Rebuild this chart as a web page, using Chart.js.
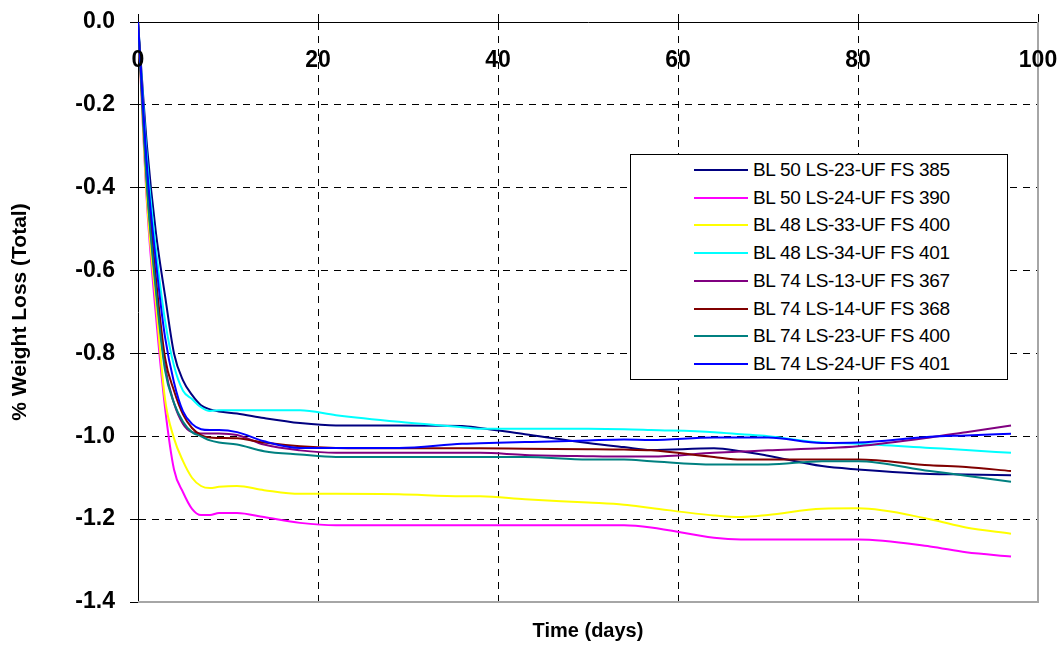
<!DOCTYPE html>
<html>
<head>
<meta charset="utf-8">
<script src="https://cdn.jsdelivr.net/npm/chart.js@4.4.1/dist/chart.umd.min.js"></script>
<style>
  html, body { margin: 0; padding: 0; background: #fff; }
  #wrap { position: relative; width: 1061px; height: 645px; }
  #legend {
    position: absolute; left: 630px; top: 154px; width: 376px; height: 224px;
    border: 1px solid #000; background: #fff;
    font-family: "Liberation Sans", Arial, sans-serif; font-size: 19px; letter-spacing: -0.3px; color: #000;
  }
  .item { position: absolute; left: 0; height: 28px; display: flex; align-items: center; white-space: nowrap; }
  .swatch { display: inline-block; width: 54px; height: 2px; margin-left: 63px; margin-right: 5px; }
</style>
</head>
<body>
<div id="wrap">
  <canvas id="chart" width="1061" height="645"></canvas>
  <div id="legend"></div>
</div>
<script>
// sampling days
const days = [0, 1, 2, 3, 4, 5, 6, 7, 8, 9, 11, 14, 18, 22, 29, 36, 38, 43, 50, 54, 57, 64, 67, 70, 76, 80, 88, 92, 97];

// % weight loss per sample
const bl50ls23 = [0, -0.30, -0.51, -0.66, -0.80, -0.865, -0.90, -0.925, -0.935, -0.94, -0.945, -0.956, -0.968, -0.974, -0.974, -0.975, -0.98, -0.995, -1.016, -1.026, -1.033, -1.029, -1.036, -1.047, -1.072, -1.08, -1.091, -1.092, -1.094];
const bl50ls24 = [0, -0.44, -0.71, -0.93, -1.08, -1.135, -1.175, -1.19, -1.19, -1.185, -1.185, -1.195, -1.209, -1.215, -1.215, -1.215, -1.215, -1.215, -1.215, -1.215, -1.22, -1.245, -1.249, -1.249, -1.249, -1.249, -1.266, -1.28, -1.29];
const bl48ls33 = [0, -0.43, -0.68, -0.91, -1.005, -1.06, -1.10, -1.12, -1.125, -1.122, -1.12, -1.13, -1.139, -1.139, -1.14, -1.145, -1.145, -1.152, -1.16, -1.165, -1.173, -1.191, -1.195, -1.19, -1.175, -1.174, -1.2, -1.22, -1.235];
const bl48ls34 = [0, -0.33, -0.55, -0.72, -0.83, -0.89, -0.91, -0.93, -0.939, -0.937, -0.937, -0.937, -0.937, -0.949, -0.965, -0.978, -0.982, -0.982, -0.982, -0.983, -0.985, -0.99, -0.995, -1.0, -1.015, -1.018, -1.028, -1.033, -1.04];
const bl74ls13 = [0, -0.39, -0.64, -0.83, -0.92, -0.97, -0.99, -0.993, -0.993, -0.993, -0.997, -1.02, -1.034, -1.04, -1.04, -1.04, -1.04, -1.045, -1.048, -1.049, -1.049, -1.04, -1.037, -1.034, -1.029, -1.024, -1.003, -0.99, -0.974];
const bl74ls14 = [0, -0.37, -0.62, -0.81, -0.89, -0.947, -0.98, -0.997, -1.003, -1.004, -1.005, -1.015, -1.024, -1.028, -1.029, -1.029, -1.029, -1.03, -1.031, -1.032, -1.034, -1.05, -1.056, -1.056, -1.056, -1.056, -1.07, -1.074, -1.084];
const bl74ls23 = [0, -0.40, -0.65, -0.84, -0.92, -0.965, -0.99, -1.0, -1.01, -1.015, -1.02, -1.036, -1.044, -1.05, -1.05, -1.05, -1.05, -1.05, -1.056, -1.056, -1.06, -1.068, -1.068, -1.068, -1.06, -1.06, -1.084, -1.095, -1.11];
const bl74ls24 = [0, -0.35, -0.58, -0.76, -0.87, -0.94, -0.97, -0.983, -0.985, -0.985, -0.99, -1.012, -1.028, -1.028, -1.028, -1.018, -1.017, -1.014, -1.01, -1.008, -1.009, -1.003, -1.003, -1.003, -1.016, -1.015, -1.001, -0.998, -0.994];

const seriesNames = [
  'BL 50 LS-23-UF FS 385', 'BL 50 LS-24-UF FS 390', 'BL 48 LS-33-UF FS 400', 'BL 48 LS-34-UF FS 401',
  'BL 74 LS-13-UF FS 367', 'BL 74 LS-14-UF FS 368', 'BL 74 LS-23-UF FS 400', 'BL 74 LS-24-UF FS 401',
];
const seriesValues = [bl50ls23, bl50ls24, bl48ls33, bl48ls34, bl74ls13, bl74ls14, bl74ls23, bl74ls24];
const seriesColors = ['#000080', '#ff00ff', '#ffff00', '#00ffff', '#800080', '#800000', '#008080', '#0000ff'];

const yTicks = [0, -0.2, -0.4, -0.6, -0.8, -1.0, -1.2, -1.4];
const xTicks = [0, 20, 40, 60, 80, 100];

const FONT = '"Liberation Sans", Arial, sans-serif';

const datasets = seriesValues.map((vals, i) => ({
  label: seriesNames[i],
  data: vals.map((v, k) => ({ x: days[k], y: v })),
  borderColor: seriesColors[i],
  backgroundColor: seriesColors[i],
  borderWidth: 2,
  pointRadius: 0,
  cubicInterpolationMode: 'monotone',
  fill: false,
  order: seriesValues.length - 1 - i, // last series on top, like the original
}));

const isEnd = (v, a, b) => Math.abs(v - a) < 1e-6 || Math.abs(v - b) < 1e-6;

// gray right & bottom edge of the plot
const frame = {
  id: 'frame',
  beforeDatasetsDraw(chart) {
    const { ctx, chartArea: a } = chart;
    ctx.save();
    ctx.strokeStyle = '#a6a6a6';
    ctx.lineWidth = 2;
    ctx.beginPath();
    ctx.moveTo(a.left, a.bottom);
    ctx.lineTo(a.right, a.bottom);
    ctx.lineTo(a.right, a.top);
    ctx.stroke();
    ctx.restore();
  },
};

// x tick labels sit just under the top axis, inside the plot
const xLabels = {
  id: 'xLabels',
  afterDatasetsDraw(chart) {
    const { ctx, chartArea } = chart;
    const s = chart.scales.x;
    ctx.save();
    ctx.font = `bold 23px ${FONT}`;
    ctx.fillStyle = '#000';
    ctx.textAlign = 'center';
    ctx.textBaseline = 'middle';
    xTicks.forEach(v => ctx.fillText(String(v), s.getPixelForValue(v), chartArea.top + 39));
    ctx.restore();
  },
};

new Chart(document.getElementById('chart'), {
  type: 'line',
  data: { datasets },
  plugins: [frame, xLabels],
  options: {
    responsive: false,
    animation: false,
    devicePixelRatio: 1,
    layout: { padding: { left: 0, right: 23, top: 0, bottom: 0 } },
    plugins: {
      legend: { display: false },
      tooltip: { enabled: false },
      title: {
        display: true,
        text: 'Time (days)',
        position: 'bottom',
        fullSize: false,
        color: '#000',
        font: { family: FONT, size: 20, weight: 'bold' },
        padding: { top: 17, bottom: 2 },
      },
    },
    scales: {
      x: {
        type: 'linear',
        position: 'top',
        min: 0,
        max: 100,
        afterFit(s) { s.height = 22; },
        afterBuildTicks(s) { s.ticks = xTicks.map(v => ({ value: v })); },
        ticks: { display: false },
        grid: {
          color: c => (c.tick && isEnd(c.tick.value, 0, 100) ? 'rgba(0,0,0,0)' : '#000'),
          tickColor: '#000',
          tickLength: 8,
          lineWidth: 1,
        },
        border: { display: true, color: '#000', width: 1, dash: [7, 6] },
      },
      y: {
        min: -1.4,
        max: 0,
        afterFit(s) { s.width = 138; s.paddingTop = 0; s.paddingBottom = 0; },
        afterBuildTicks(s) { s.ticks = yTicks.map(v => ({ value: v })); },
        ticks: {
          color: '#000',
          padding: 15,
          font: { family: FONT, size: 23, weight: 'bold' },
          callback: v => v.toFixed(1),
        },
        grid: {
          color: c => (c.tick && isEnd(c.tick.value, 0, -1.4) ? 'rgba(0,0,0,0)' : '#000'),
          tickColor: '#000',
          tickLength: 8,
          lineWidth: 1,
        },
        border: { display: true, color: '#000', width: 1, dash: [7, 6] },
        title: {
          display: true,
          text: '% Weight Loss (Total)',
          color: '#000',
          font: { family: FONT, size: 21, weight: 'bold' },
          padding: { top: 8, bottom: 0 },
        },
      },
    },
  },
});

// legend box, drawn as HTML over the plot
const legend = document.getElementById('legend');
seriesNames.forEach((name, i) => {
  const row = document.createElement('div');
  row.className = 'item';
  row.style.top = (1 + i * 27.7) + 'px';
  const sw = document.createElement('span');
  sw.className = 'swatch';
  sw.style.background = seriesColors[i];
  const txt = document.createElement('span');
  txt.textContent = name;
  row.appendChild(sw);
  row.appendChild(txt);
  legend.appendChild(row);
});
</script>
</body>
</html>
